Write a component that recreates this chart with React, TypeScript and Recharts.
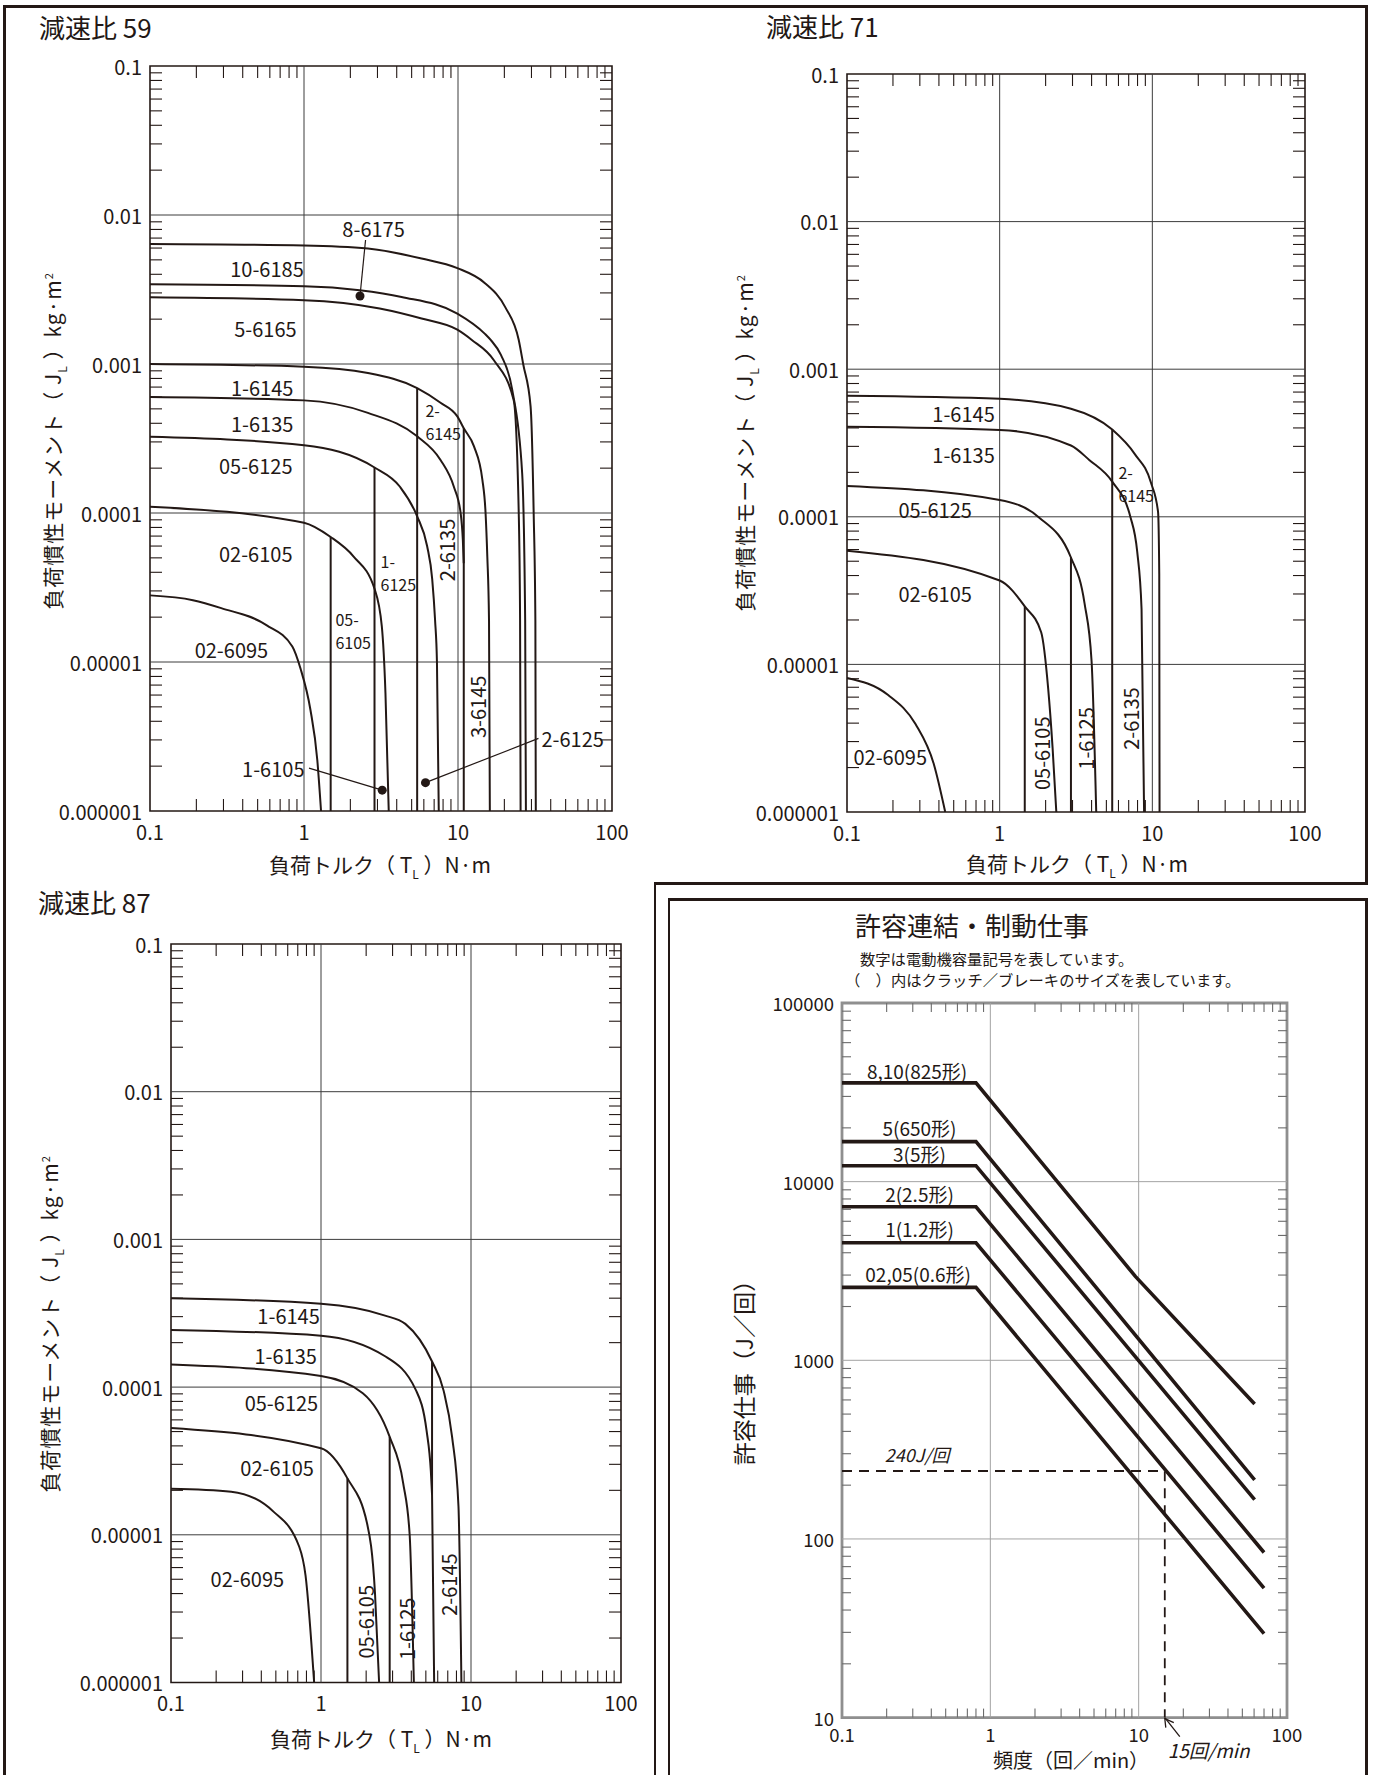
import React from 'react';
import {
  ComposedChart,
  Line,
  Scatter,
  XAxis,
  YAxis,
  ReferenceLine,
  ReferenceDot,
  ReferenceArea,
} from 'recharts';

type Pt = [number, number];

const FONT = '"Noto Sans CJK JP", "Noto Sans", sans-serif';
const INK = '#231815';

// ---- axis decades (labelled ticks)
const TORQUE_TICKS = [0.1, 1, 10, 100];
const INERTIA_TICKS = [0.000001, 0.00001, 0.0001, 0.001, 0.01, 0.1];
const FREQ_TICKS = [0.1, 1, 10, 100];
const WORK_TICKS = [10, 100, 1000, 10000, 100000];
const MINOR_STEPS = [2, 3, 4, 5, 6, 7, 8, 9];

// ---- 減速比 59  [load torque N·m, load inertia kg·m²]
const r59_10_6185: Pt[] = [[0.1, 6.4e-3], [1, 6.25e-3], [2.6, 5.95e-3], [5.8, 5.1e-3], [9.9, 4.4e-3], [14.9, 3.5e-3], [20.3, 2.4e-3], [24.8, 1.45e-3], [26.5, 1.0e-3], [29.6, 5.2e-4], [31, 1.0e-4], [31.8, 1.9e-5], [32, 1.0e-6]];
const r59_8_6175: Pt[] = [[0.1, 3.43e-3], [1, 3.33e-3], [2.3, 3.13e-3], [4.3, 2.82e-3], [9.9, 2.18e-3], [14.9, 1.6e-3], [16.3, 1.45e-3], [19, 1.15e-3], [22.5, 6.7e-4], [26.1, 1.85e-4], [27.3, 1.9e-5], [27.6, 1.0e-6]];
const r59_5_6165: Pt[] = [[0.1, 2.8e-3], [1, 2.68e-3], [3.1, 2.36e-3], [5.8, 2.02e-3], [9.9, 1.7e-3], [12.3, 1.45e-3], [17.1, 1.06e-3], [23, 5.7e-4], [24.8, 1.0e-4], [25.3, 1.9e-5], [25.5, 1.0e-6]];
const r59_6145: Pt[] = [[0.1, 1.0e-3], [1, 9.6e-4], [2.6, 8.7e-4], [5.43, 6.9e-4], [7.7, 5.5e-4], [9.9, 4.45e-4], [10.9, 3.7e-4], [12.7, 2.8e-4], [14.4, 1.67e-4], [15.1, 1.0e-4], [15.5, 5.1e-5], [15.9, 1.9e-5], [16.1, 1.0e-6]];
const r59_6135: Pt[] = [[0.1, 6.0e-4], [1, 5.7e-4], [2.6, 4.7e-4], [5.43, 3.27e-4], [7.7, 2.27e-4], [9.4, 1.5e-4], [10.4, 1.0e-4], [10.75, 6.6e-5], [10.9, 4.6e-5]];
const r59_6125: Pt[] = [[0.1, 3.25e-4], [1, 2.85e-4], [2.87, 2.02e-4], [4.2, 1.5e-4], [5.43, 9.5e-5], [6.3, 6.0e-5], [6.8, 3.6e-5], [7.1, 1.9e-5], [7.3, 1.0e-5], [7.5, 1.0e-6]];
const r59_6105: Pt[] = [[0.1, 1.1e-4], [1, 8.6e-5], [1.49, 6.9e-5], [2.1, 5.1e-5], [2.87, 3.1e-5], [3.2, 1.74e-5], [3.38, 6.2e-6], [3.55, 1.0e-6]];
const r59_6095: Pt[] = [[0.1, 2.8e-5], [0.19, 2.6e-5], [0.29, 2.3e-5], [0.57, 1.77e-5], [0.84, 1.27e-5], [0.95, 9.0e-6], [1.1, 4.8e-6], [1.22, 2.2e-6], [1.29, 1.0e-6]];
const r59_limit_a: Pt[] = [[1.49, 6.9e-5], [1.49, 1.0e-6]];
const r59_limit_b: Pt[] = [[2.87, 2.02e-4], [2.87, 1.0e-6]];
const r59_limit_c: Pt[] = [[5.43, 6.9e-4], [5.43, 1.0e-6]];
const r59_limit_d: Pt[] = [[10.9, 3.7e-4], [10.9, 1.0e-6]];
const r59_ptr_8_6175: Pt[] = [[2.31, 2.86e-3], [2.51, 6.8e-3]];
const r59_ptr_1_6105: Pt[] = [[3.22, 1.38e-6], [1.078, 1.94e-6]];
const r59_ptr_2_6125: Pt[] = [[6.15, 1.55e-6], [33.3, 3.07e-6]];

// ---- 減速比 71
const r71_1_6145: Pt[] = [[0.1, 6.6e-4], [1, 6.3e-4], [2.93, 5.4e-4], [5.46, 3.9e-4], [7.7, 2.65e-4], [9.8, 1.7e-4], [10.9, 1.08e-4], [11.1, 4.1e-5], [11.15, 1.0e-6]];
const r71_1_6135: Pt[] = [[0.1, 4.08e-4], [1, 3.88e-4], [2.93, 3.04e-4], [3.86, 2.43e-4], [5.46, 1.73e-4], [7.2, 9.9e-5], [7.96, 5.8e-5], [8.5, 2.37e-5], [8.83, 1.0e-6]];
const r71_05_6125: Pt[] = [[0.1, 1.62e-4], [1, 1.3e-4], [1.81, 9.9e-5], [2.93, 5.3e-5], [3.6, 2.58e-5], [4.0, 1.05e-5], [4.29, 1.0e-6]];
const r71_02_6105: Pt[] = [[0.1, 5.9e-5], [1, 3.7e-5], [1.46, 2.47e-5], [1.87, 1.65e-5], [2.08, 6.8e-6], [2.22, 2.75e-6], [2.35, 1.0e-6]];
const r71_02_6095: Pt[] = [[0.1, 8.1e-6], [0.186, 6.2e-6], [0.281, 3.94e-6], [0.371, 2.1e-6], [0.44, 1.0e-6]];
const r71_limit_a: Pt[] = [[1.46, 2.47e-5], [1.46, 1.0e-6]];
const r71_limit_b: Pt[] = [[2.93, 5.3e-5], [2.93, 1.0e-6]];
const r71_limit_c: Pt[] = [[5.46, 3.9e-4], [5.46, 1.0e-6]];

// ---- 減速比 87
const r87_1_6145: Pt[] = [[0.1, 4.0e-4], [1, 3.67e-4], [2.64, 3.06e-4], [3.65, 2.68e-4], [5.5, 1.49e-4], [6.56, 9.5e-5], [7.48, 4.6e-5], [8.25, 1.56e-5], [8.63, 1.0e-6]];
const r87_1_6135: Pt[] = [[0.1, 2.44e-4], [1, 2.23e-4], [2.64, 1.63e-4], [4.3, 9.5e-5], [5.06, 5.05e-5], [5.4, 2.68e-5], [5.5, 1.87e-5]];
const r87_05_6125: Pt[] = [[0.1, 1.42e-4], [1, 1.19e-4], [1.9, 9.1e-5], [2.87, 4.6e-5], [3.53, 2.24e-5], [3.9, 1.0e-5], [4.16, 1.0e-6]];
const r87_02_6105: Pt[] = [[0.1, 5.28e-5], [1, 3.85e-5], [1.5, 2.41e-5], [2.03, 1.19e-5], [2.29, 4.05e-6], [2.44, 1.0e-6]];
const r87_02_6095: Pt[] = [[0.1, 2.05e-5], [0.252, 1.96e-5], [0.484, 1.43e-5], [0.716, 8.3e-6], [0.789, 5.3e-6], [0.9, 1.0e-6]];
const r87_limit_a: Pt[] = [[1.5, 2.41e-5], [1.5, 1.0e-6]];
const r87_limit_b: Pt[] = [[2.87, 4.6e-5], [2.87, 1.0e-6]];
const r87_limit_c: Pt[] = [[5.5, 1.49e-4], [5.5, 1.87e-5], [5.68, 1.0e-6]];

// ---- 許容連結・制動仕事  [frequency 回/min, work J/回]
const w_825: Pt[] = [[0.1, 35700], [0.8, 35700], [9.5, 2950], [60.5, 570]];
const w_650: Pt[] = [[0.1, 16750], [0.8, 16750], [60.5, 214]];
const w_5: Pt[] = [[0.1, 12280], [0.8, 12280], [60.5, 166]];
const w_2_5: Pt[] = [[0.1, 7230], [0.8, 7230], [70, 84]];
const w_1_2: Pt[] = [[0.1, 4550], [0.8, 4550], [70, 53]];
const w_0_6: Pt[] = [[0.1, 2560], [0.8, 2560], [70, 29.5]];
const w_example: Pt[] = [[0.1, 240], [15, 240], [15, 10]];

// ---- text placed on the curves (anchor in data units, first line)
type TagKind = 'label' | 'start' | 'small' | 'vertical' | 'work' | 'note';
interface Tag { text: string; at: Pt; kind: TagKind }

const r59_tags: Tag[] = [
  { text: '8-6175', at: [2.83, 8.2e-3], kind: 'label' },
  { text: '10-6185', at: [0.575, 4.39e-3], kind: 'label' },
  { text: '5-6165', at: [0.562, 1.74e-3], kind: 'label' },
  { text: '1-6145', at: [0.535, 7.05e-4], kind: 'label' },
  { text: '1-6135', at: [0.535, 4.0e-4], kind: 'label' },
  { text: '05-6125', at: [0.486, 2.1e-4], kind: 'label' },
  { text: '02-6105', at: [0.486, 5.37e-5], kind: 'label' },
  { text: '02-6095', at: [0.338, 1.22e-5], kind: 'label' },
  { text: '1-6105', at: [0.632, 1.94e-6], kind: 'label' },
  { text: '2-6125', at: [34.8, 3.08e-6], kind: 'start' },
  { text: '2-\n6145', at: [6.15, 4.9e-4], kind: 'small' },
  { text: '1-\n6125', at: [3.14, 4.75e-5], kind: 'small' },
  { text: '05-\n6105', at: [1.6, 1.95e-5], kind: 'small' },
  { text: '2-6135', at: [8.37, 5.65e-5], kind: 'vertical' },
  { text: '3-6145', at: [13.3, 5.0e-6], kind: 'vertical' },
];

const r71_tags: Tag[] = [
  { text: '1-6145', at: [0.58, 5.06e-4], kind: 'label' },
  { text: '1-6135', at: [0.58, 2.65e-4], kind: 'label' },
  { text: '05-6125', at: [0.378, 1.13e-4], kind: 'label' },
  { text: '02-6105', at: [0.378, 3.04e-5], kind: 'label' },
  { text: '02-6095', at: [0.192, 2.4e-6], kind: 'label' },
  { text: '2-\n6145', at: [6.0, 2.0e-4], kind: 'small' },
  { text: '05-6105', at: [1.87, 2.5e-6], kind: 'vertical' },
  { text: '1-6125', at: [3.6, 3.15e-6], kind: 'vertical' },
  { text: '2-6135', at: [7.18, 4.3e-6], kind: 'vertical' },
];

const r87_tags: Tag[] = [
  { text: '1-6145', at: [0.608, 3.06e-4], kind: 'label' },
  { text: '1-6135', at: [0.581, 1.66e-4], kind: 'label' },
  { text: '05-6125', at: [0.545, 7.94e-5], kind: 'label' },
  { text: '02-6105', at: [0.51, 2.88e-5], kind: 'label' },
  { text: '02-6095', at: [0.323, 5.07e-6], kind: 'label' },
  { text: '05-6105', at: [1.97, 2.58e-6], kind: 'vertical' },
  { text: '1-6125', at: [3.7, 2.31e-6], kind: 'vertical' },
  { text: '2-6145', at: [7.0, 4.6e-6], kind: 'vertical' },
];

const work_tags: Tag[] = [
  { text: '8,10(825形)', at: [0.321, 42000], kind: 'work' },
  { text: '5(650形)', at: [0.333, 20270], kind: 'work' },
  { text: '3(5形)', at: [0.333, 14450], kind: 'work' },
  { text: '2(2.5形)', at: [0.333, 8690], kind: 'work' },
  { text: '1(1.2形)', at: [0.333, 5470], kind: 'work' },
  { text: '02,05(0.6形)', at: [0.326, 3085], kind: 'work' },
  { text: '240J/回', at: [0.321, 299], kind: 'note' },
];

// ---- styling
type SeriesKind = 'curve' | 'limit' | 'pointer' | 'heavy' | 'dashed';
interface Series { name: string; points: Pt[]; kind: SeriesKind }

const SERIES_STYLE: Record<SeriesKind, { width: number; type: 'monotone' | 'linear'; dash?: string }> = {
  curve: { width: 2, type: 'monotone' },
  limit: { width: 2, type: 'linear' },
  pointer: { width: 1.2, type: 'linear' },
  heavy: { width: 3.6, type: 'linear' },
  dashed: { width: 1.8, type: 'linear', dash: '10 7' },
};

const TAG_STYLE: Record<TagKind, { size: number; anchor: 'start' | 'middle'; rotate?: boolean; italic?: boolean }> = {
  label: { size: 20, anchor: 'middle' },
  start: { size: 20, anchor: 'start' },
  small: { size: 16, anchor: 'start' },
  vertical: { size: 20, anchor: 'middle', rotate: true },
  work: { size: 19, anchor: 'middle' },
  note: { size: 18, anchor: 'middle', italic: true },
};

interface Look { frame: string; frameWidth: number; grid: string; tick: string; tickLen: number; font: number; labelGap: number }
const PRINT: Look = { frame: INK, frameWidth: 1.6, grid: '#3c3c3c', tick: INK, tickLen: 12, font: 20, labelGap: 20 };
const GREY: Look = { frame: '#8f8f8f', frameWidth: 2.8, grid: '#a3a3a3', tick: '#6b6b6b', tickLen: 9, font: 18.5, labelGap: 16 };

const ML = 110;
const MR = 16;
const MT = 16;
const MB = 50;
const LINE_GAP = 23;

const minorTicks = (decades: number[]) =>
  decades.slice(0, -1).flatMap((d) => MINOR_STEPS.map((m) => +(d * m).toPrecision(6)));

const rows = (pts: Pt[]) => pts.map(([x, y]) => ({ x, y }));

const tagShape = (props: any) => {
  const { cx, cy } = props;
  const p = props.payload ?? props;
  const s = TAG_STYLE[p.kind as TagKind];
  const lines: string[] = String(p.text).split('\n');
  return (
    <text
      x={cx}
      y={cy}
      textAnchor={s.anchor}
      dominantBaseline="central"
      fontSize={s.size}
      fontStyle={s.italic ? 'italic' : 'normal'}
      fontFamily={FONT}
      fill={INK}
      transform={s.rotate ? `rotate(-90 ${cx} ${cy})` : undefined}
    >
      {lines.map((ln, i) => (
        <tspan key={i} x={cx} dy={i === 0 ? 0 : LINE_GAP}>
          {ln}
        </tspan>
      ))}
    </text>
  );
};

const ArrowNote = (props: any) => {
  const { cx, cy } = props;
  return (
    <g>
      <line x1={cx} y1={cy} x2={cx + 15} y2={cy + 19} stroke={INK} strokeWidth={1.3} />
      <polyline points={`${cx + 1},${cy + 10} ${cx},${cy + 1} ${cx + 9},${cy + 5}`} stroke={INK} strokeWidth={1.3} fill="none" />
      <text x={cx + 3} y={cy + 32} fontSize={19} fontStyle="italic" fontFamily={FONT} fill={INK} dominantBaseline="central">
        15回/min
      </text>
    </g>
  );
};

interface PanelProps {
  box: [number, number, number, number];
  xTicks: number[];
  yTicks: number[];
  series: Series[];
  tags: Tag[];
  dots?: Pt[];
  look: Look;
  children?: React.ReactNode;
}

function LogPanel({ box, xTicks, yTicks, series, tags, dots = [], look, children }: PanelProps) {
  const [left, top, plotW, plotH] = box;
  const xMinor = minorTicks(xTicks);
  const yMinor = minorTicks(yTicks);
  const xDomain = [xTicks[0], xTicks[xTicks.length - 1]];
  const yDomain = [yTicks[0], yTicks[yTicks.length - 1]];
  const L = look.tickLen;
  const label = { fontSize: look.font, fill: INK, fontFamily: FONT };
  const tickStroke = { stroke: look.tick, strokeWidth: 1.1 };

  // minor ticks are drawn inward on both opposite edges of the frame
  const bottomTick = (p: any) =>
    xTicks.includes(p.payload.value) ? (
      <text x={p.x} y={p.y + look.labelGap} textAnchor="middle" dominantBaseline="central" {...label}>
        {String(p.payload.value)}
      </text>
    ) : (
      <g>
        <line x1={p.x} x2={p.x} y1={p.y} y2={p.y - L} {...tickStroke} />
        <line x1={p.x} x2={p.x} y1={p.y - plotH} y2={p.y - plotH + L} {...tickStroke} />
      </g>
    );
  const leftTick = (p: any) =>
    yTicks.includes(p.payload.value) ? (
      <text x={p.x - 8} y={p.y} textAnchor="end" dominantBaseline="central" {...label}>
        {String(p.payload.value)}
      </text>
    ) : (
      <g>
        <line x1={p.x} x2={p.x + L} y1={p.y} y2={p.y} {...tickStroke} />
        <line x1={p.x + plotW} x2={p.x + plotW - L} y1={p.y} y2={p.y} {...tickStroke} />
      </g>
    );

  const common = {
    type: 'number' as const,
    scale: 'log' as const,
    allowDataOverflow: true,
    interval: 0 as const,
    tickSize: 0,
    tickMargin: 0,
    tickLine: false,
    axisLine: false,
  };

  return (
    <div style={{ position: 'absolute', left: left - ML, top: top - MT }}>
      <ComposedChart width={plotW + ML + MR} height={plotH + MT + MB} margin={{ top: MT, right: MR, bottom: 0, left: 0 }}>
        <XAxis {...common} dataKey="x" domain={xDomain} ticks={[...xTicks, ...xMinor]} height={MB} tick={bottomTick} />
        <YAxis {...common} dataKey="y" domain={yDomain} ticks={[...yTicks, ...yMinor]} width={ML} tick={leftTick} />

        {xTicks.slice(1, -1).map((v) => (
          <ReferenceLine key={`gx${v}`} x={v} stroke={look.grid} strokeWidth={1} />
        ))}
        {yTicks.slice(1, -1).map((v) => (
          <ReferenceLine key={`gy${v}`} y={v} stroke={look.grid} strokeWidth={1} />
        ))}
        <ReferenceArea
          x1={xDomain[0]}
          x2={xDomain[1]}
          y1={yDomain[0]}
          y2={yDomain[1]}
          fill="none"
          stroke={look.frame}
          strokeWidth={look.frameWidth}
          ifOverflow="visible"
        />

        {series.map((s, i) => {
          const st = SERIES_STYLE[s.kind];
          return (
            <Line
              key={`${s.name}-${i}`}
              name={s.name}
              data={rows(s.points)}
              dataKey="y"
              type={st.type}
              stroke={INK}
              strokeWidth={st.width}
              strokeDasharray={st.dash}
              dot={false}
              activeDot={false}
              isAnimationActive={false}
            />
          );
        })}

        {dots.map(([x, y], i) => (
          <ReferenceDot key={`d${i}`} x={x} y={y} r={4.5} fill={INK} stroke="none" ifOverflow="visible" />
        ))}

        <Scatter
          data={tags.map((t) => ({ x: t.at[0], y: t.at[1], text: t.text, kind: t.kind }))}
          dataKey="y"
          shape={tagShape}
          isAnimationActive={false}
        />
        {children}
      </ComposedChart>
    </div>
  );
}

// ---- page text helpers
const Txt = ({ x, y, size, center = false, rotate = false, spacing = 0, children }: any) => (
  <div
    style={{
      position: 'absolute',
      left: x,
      top: y,
      fontSize: size,
      lineHeight: 1,
      letterSpacing: spacing,
      whiteSpace: 'nowrap',
      transform: `translate(${center ? '-50%' : '0'}, -50%)${rotate ? ' rotate(-90deg)' : ''}`,
    }}
  >
    {children}
  </div>
);

const Rule = ({ x, y, w, h }: { x: number; y: number; w: number; h: number }) => (
  <div style={{ position: 'absolute', left: x, top: y, width: w, height: h, background: INK }} />
);

const InertiaTitle = () => (
  <>
    負荷慣性モーメント（ J<sub style={{ fontSize: 12 }}>L</sub> ）kg·m<sup style={{ fontSize: 11 }}>2</sup>
  </>
);
const TorqueTitle = () => (
  <>
    負荷トルク（ T<sub style={{ fontSize: 12 }}>L</sub> ）N·m
  </>
);

export default function App() {
  return (
    <div
      style={{
        position: 'absolute',
        left: 0,
        top: 0,
        width: 1375,
        height: 1775,
        overflow: 'hidden',
        background: '#fff',
        color: INK,
        fontFamily: FONT,
      }}
    >
      {/* frames */}
      <Rule x={3} y={5} w={2.5} h={1770} />
      <Rule x={3} y={5} w={1364.5} h={2.5} />
      <Rule x={1365} y={5} w={2.5} h={879.5} />
      <Rule x={653.5} y={882} w={714} h={2.5} />
      <Rule x={653.5} y={882} w={2.5} h={893} />
      <Rule x={667.5} y={898} w={700} h={2.5} />
      <Rule x={667.5} y={898} w={2.5} h={877} />
      <Rule x={1365} y={898} w={2.5} h={877} />

      {/* 減速比 59 */}
      <Txt x={39} y={27} size={26}>減速比 59</Txt>
      <Txt x={55} y={441} size={21} spacing={1} center rotate><InertiaTitle /></Txt>
      <Txt x={380} y={867} size={21} center><TorqueTitle /></Txt>
      <LogPanel
        box={[149.5, 66, 462, 745]}
        xTicks={TORQUE_TICKS}
        yTicks={INERTIA_TICKS}
        look={PRINT}
        series={[
          { name: '10-6185', points: r59_10_6185, kind: 'curve' },
          { name: '8-6175', points: r59_8_6175, kind: 'curve' },
          { name: '5-6165', points: r59_5_6165, kind: 'curve' },
          { name: '1-6145', points: r59_6145, kind: 'curve' },
          { name: '1-6135', points: r59_6135, kind: 'curve' },
          { name: '05-6125', points: r59_6125, kind: 'curve' },
          { name: '02-6105', points: r59_6105, kind: 'curve' },
          { name: '02-6095', points: r59_6095, kind: 'curve' },
          { name: '05-6105', points: r59_limit_a, kind: 'limit' },
          { name: '1-6125', points: r59_limit_b, kind: 'limit' },
          { name: '2-6145', points: r59_limit_c, kind: 'limit' },
          { name: '3-6145', points: r59_limit_d, kind: 'limit' },
          { name: 'ptr 8-6175', points: r59_ptr_8_6175, kind: 'pointer' },
          { name: 'ptr 1-6105', points: r59_ptr_1_6105, kind: 'pointer' },
          { name: 'ptr 2-6125', points: r59_ptr_2_6125, kind: 'pointer' },
        ]}
        dots={[r59_ptr_8_6175[0], r59_ptr_1_6105[0], r59_ptr_2_6125[0]]}
        tags={r59_tags}
      />

      {/* 減速比 71 */}
      <Txt x={766} y={26} size={26}>減速比 71</Txt>
      <Txt x={747} y={443} size={21} spacing={1} center rotate><InertiaTitle /></Txt>
      <Txt x={1077} y={866} size={21} center><TorqueTitle /></Txt>
      <LogPanel
        box={[846.7, 73.5, 458, 738]}
        xTicks={TORQUE_TICKS}
        yTicks={INERTIA_TICKS}
        look={PRINT}
        series={[
          { name: '1-6145', points: r71_1_6145, kind: 'curve' },
          { name: '1-6135', points: r71_1_6135, kind: 'curve' },
          { name: '05-6125', points: r71_05_6125, kind: 'curve' },
          { name: '02-6105', points: r71_02_6105, kind: 'curve' },
          { name: '02-6095', points: r71_02_6095, kind: 'curve' },
          { name: '05-6105', points: r71_limit_a, kind: 'limit' },
          { name: '1-6125', points: r71_limit_b, kind: 'limit' },
          { name: '2-6145', points: r71_limit_c, kind: 'limit' },
        ]}
        tags={r71_tags}
      />

      {/* 減速比 87 */}
      <Txt x={38} y={902} size={26}>減速比 87</Txt>
      <Txt x={52} y={1324} size={21} spacing={1} center rotate><InertiaTitle /></Txt>
      <Txt x={381} y={1741} size={21} center><TorqueTitle /></Txt>
      <LogPanel
        box={[170.7, 944, 450, 738.5]}
        xTicks={TORQUE_TICKS}
        yTicks={INERTIA_TICKS}
        look={PRINT}
        series={[
          { name: '1-6145', points: r87_1_6145, kind: 'curve' },
          { name: '1-6135', points: r87_1_6135, kind: 'curve' },
          { name: '05-6125', points: r87_05_6125, kind: 'curve' },
          { name: '02-6105', points: r87_02_6105, kind: 'curve' },
          { name: '02-6095', points: r87_02_6095, kind: 'curve' },
          { name: '05-6105', points: r87_limit_a, kind: 'limit' },
          { name: '1-6125', points: r87_limit_b, kind: 'limit' },
          { name: '2-6145', points: r87_limit_c, kind: 'limit' },
        ]}
        tags={r87_tags}
      />

      {/* 許容連結・制動仕事 */}
      <Txt x={972} y={925} size={26} center>許容連結・制動仕事</Txt>
      <Txt x={860} y={959} size={15.3}>数字は電動機容量記号を表しています。</Txt>
      <Txt x={845} y={980} size={15.3}>（　）内はクラッチ／ブレーキのサイズを表しています。</Txt>
      <Txt x={742.5} y={1367} size={23} center rotate>許容仕事（J／回）</Txt>
      <Txt x={1071} y={1760} size={20} center>頻度（回／min）</Txt>
      <LogPanel
        box={[842.4, 1002.7, 445, 714.6]}
        xTicks={FREQ_TICKS}
        yTicks={WORK_TICKS}
        look={GREY}
        series={[
          { name: '8,10(825形)', points: w_825, kind: 'heavy' },
          { name: '5(650形)', points: w_650, kind: 'heavy' },
          { name: '3(5形)', points: w_5, kind: 'heavy' },
          { name: '2(2.5形)', points: w_2_5, kind: 'heavy' },
          { name: '1(1.2形)', points: w_1_2, kind: 'heavy' },
          { name: '02,05(0.6形)', points: w_0_6, kind: 'heavy' },
          { name: '240J/回 example', points: w_example, kind: 'dashed' },
        ]}
        tags={work_tags}
      >
        <ReferenceDot x={w_example[2][0]} y={w_example[2][1]} r={0} ifOverflow="visible" shape={ArrowNote} />
      </LogPanel>
    </div>
  );
}
